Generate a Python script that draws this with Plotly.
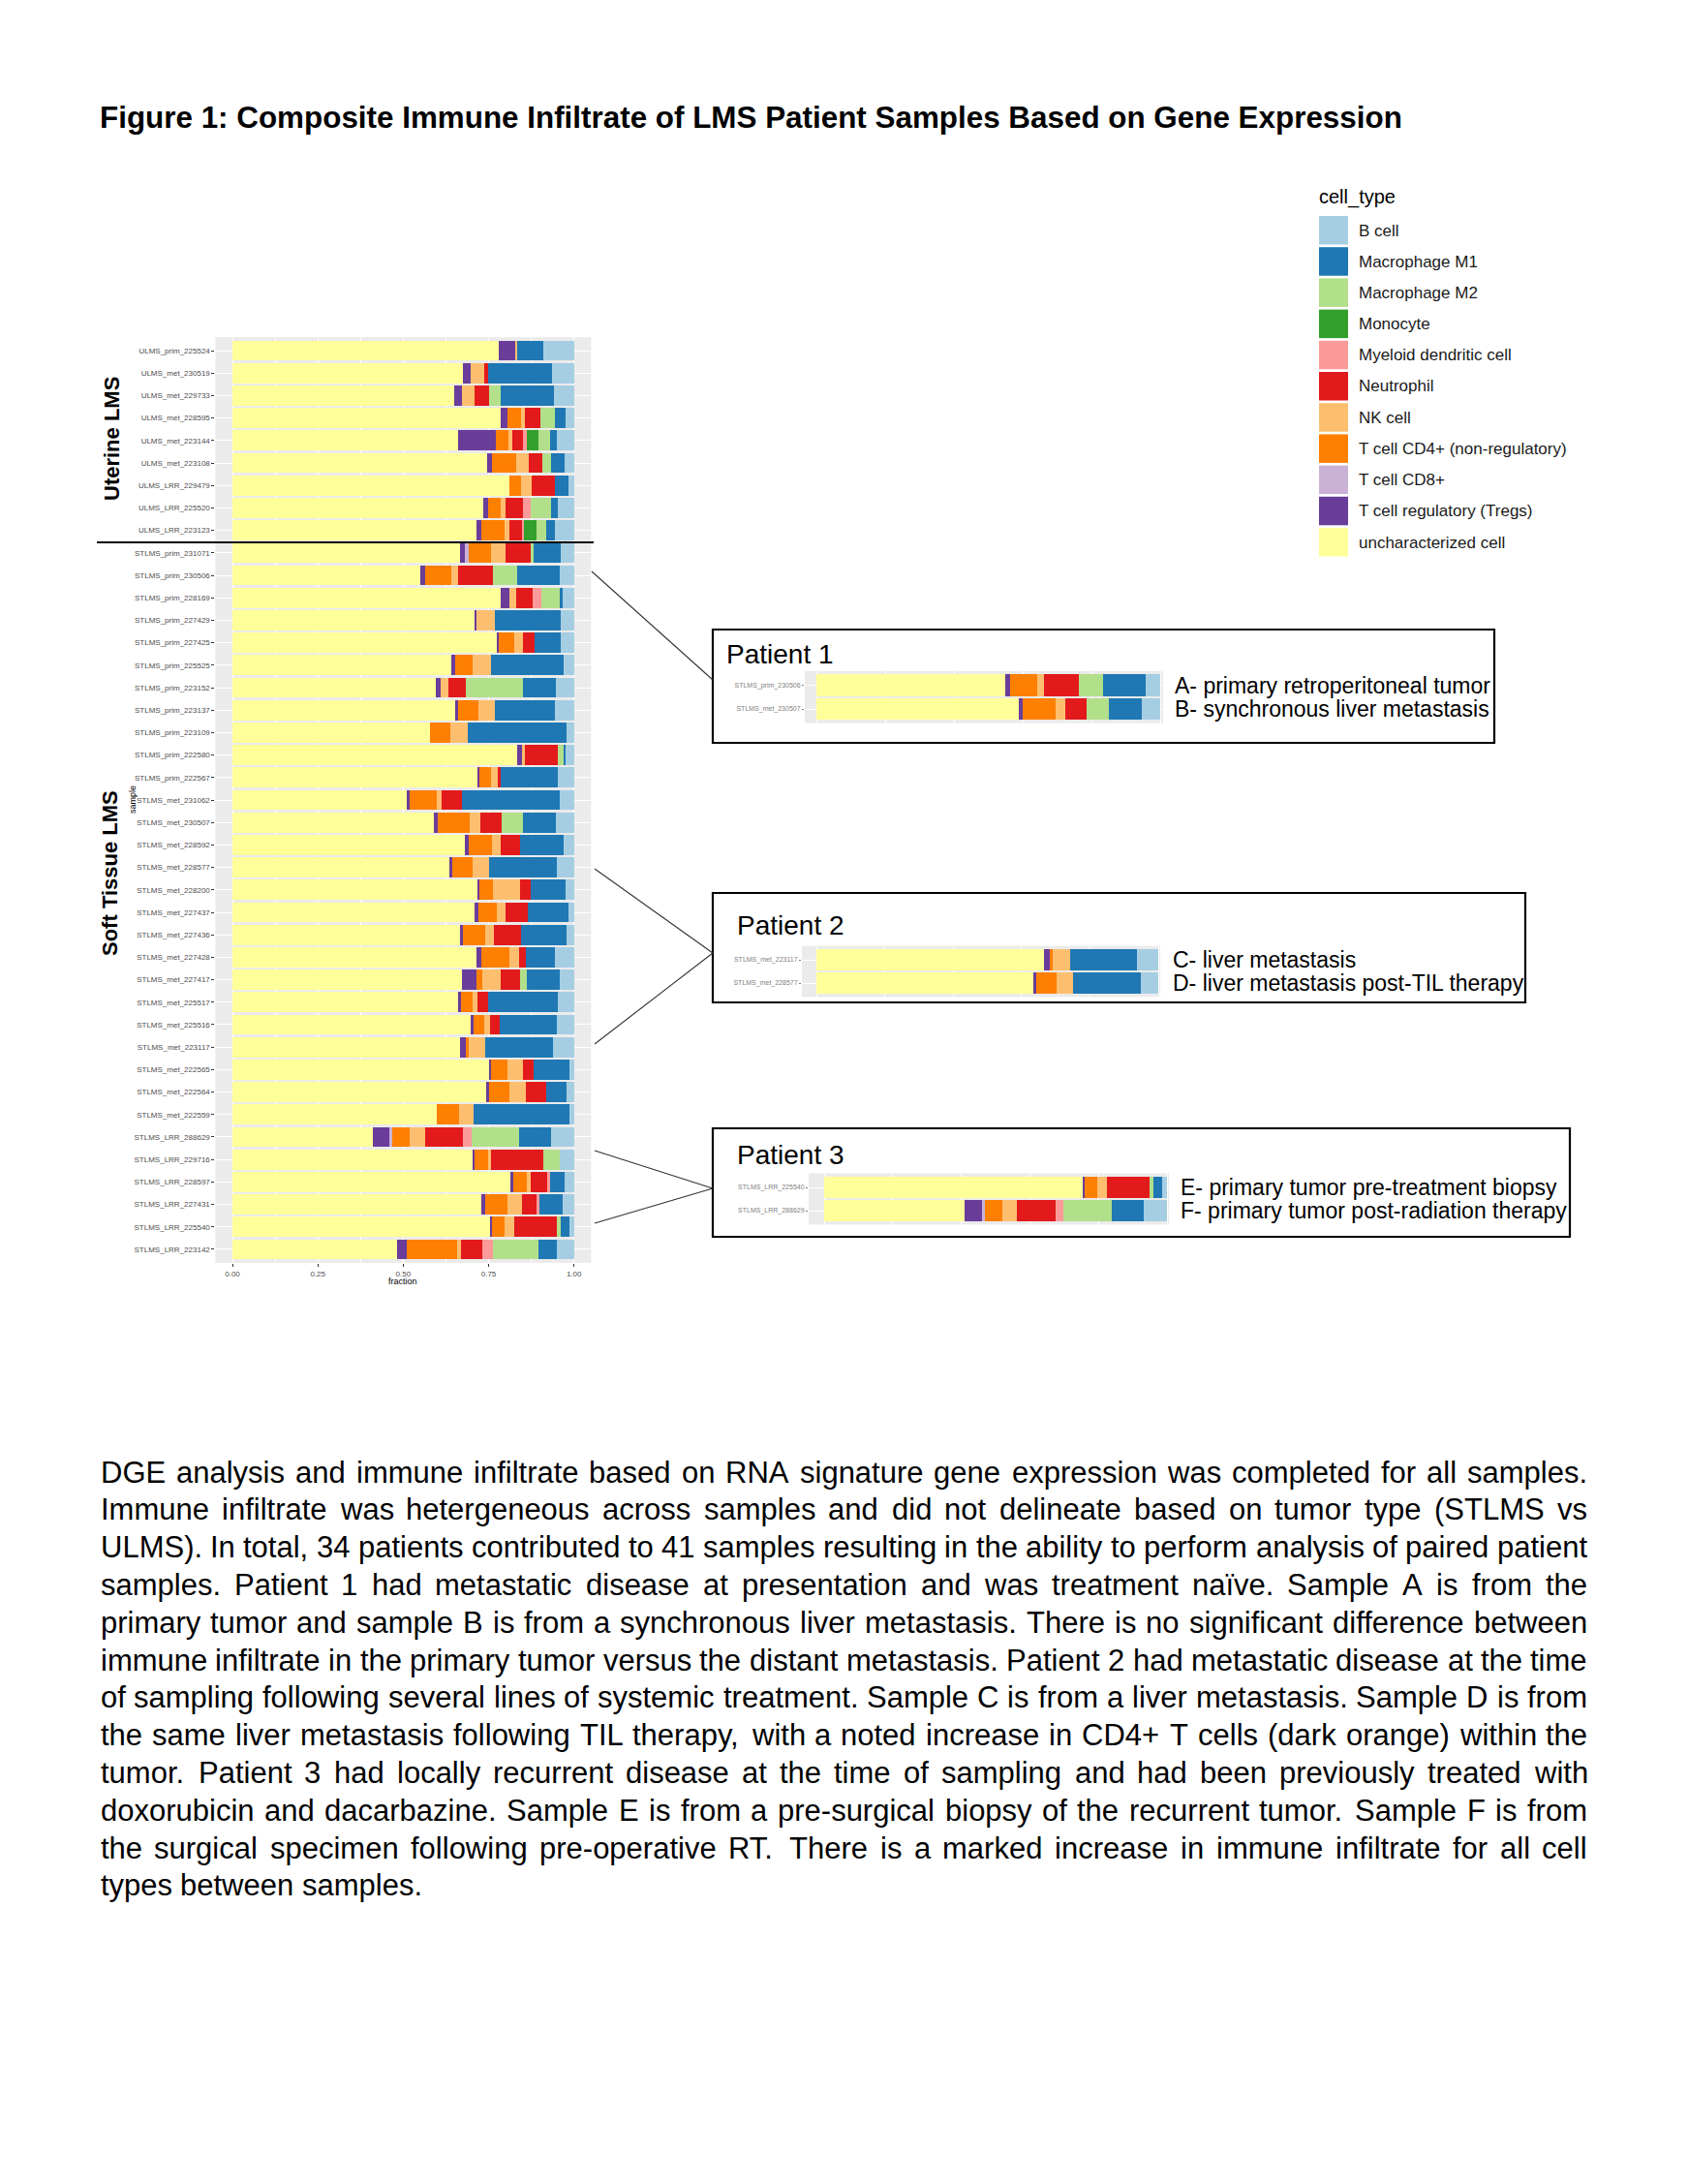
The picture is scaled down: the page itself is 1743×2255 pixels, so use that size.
import plotly.graph_objects as go

W, H = 1743, 2255
OFF = 8  # default body margin of the html page
FW, FH = W - OFF, H - OFF

# ---------------- data ----------------
samples = [
    "ULMS_prim_225524", "ULMS_met_230519", "ULMS_met_229733", "ULMS_met_228595", "ULMS_met_223144",
    "ULMS_met_223108", "ULMS_LRR_229479", "ULMS_LRR_225520", "ULMS_LRR_223123",
    "STLMS_prim_231071", "STLMS_prim_230506", "STLMS_prim_228169", "STLMS_prim_227429", "STLMS_prim_227425",
    "STLMS_prim_225525", "STLMS_prim_223152", "STLMS_prim_223137", "STLMS_prim_223109", "STLMS_prim_222580",
    "STLMS_prim_222567",
    "STLMS_met_231062", "STLMS_met_230507", "STLMS_met_228592", "STLMS_met_228577", "STLMS_met_228200",
    "STLMS_met_227437", "STLMS_met_227436", "STLMS_met_227428", "STLMS_met_227417", "STLMS_met_225517",
    "STLMS_met_225516", "STLMS_met_223117", "STLMS_met_222565", "STLMS_met_222564", "STLMS_met_222559",
    "STLMS_LRR_288629", "STLMS_LRR_229716", "STLMS_LRR_228597", "STLMS_LRR_227431", "STLMS_LRR_225540",
    "STLMS_LRR_223142",
]

uncharacterized = [.780, .674, .650, .785, .660, .747, .811, .733, .715, .665,
                   .549, .785, .711, .774, .640, .595, .652, .578, .835, .720,
                   .509, .590, .681, .635, .718, .710, .665, .715, .673, .664,
                   .700, .667, .751, .743, .599, .411, .702, .813, .729, .753,
                   .482]
tregs = [.047, .023, .021, .021, .111, .013, 0, .015, .015, .016,
         .015, .027, .003, .007, .011, .014, .010, 0, .013, .004,
         .011, .011, .010, .009, .006, .009, .010, .014, .042, .004,
         .005, .017, .006, .009, 0, .049, .007, .010, .010, .006,
         .028]
cd8 = [0, 0, 0, 0, 0, 0, 0, 0, 0, .010,
       0, 0, 0, 0, 0, 0, 0, 0, 0, 0,
       0, 0, 0, 0, 0, 0, 0, 0, 0, 0,
       0, 0, 0, 0, 0, .009, 0, 0, 0, 0,
       0]
cd4 = [0, 0, 0, .039, .037, .072, .035, .038, .067, .066,
       .078, 0, 0, .043, .052, 0, .059, .060, 0, .032,
       .077, .095, .070, .059, .038, .056, .064, .081, .017, .035,
       .032, .008, .047, .059, .064, .051, .040, .038, .065, .039,
       .147]
nk = [.008, .041, .038, .012, .012, .036, .029, .013, .013, .043,
      .019, .020, .054, .026, .053, .022, .048, .050, .009, .020,
      .015, .029, .023, .047, .081, .026, .026, .028, .053, .013,
      .016, .049, .047, .047, .043, .043, .009, .013, .043, .026,
      .013]
neutrophil = [0, .011, .041, .044, .032, .038, .068, .052, .037, .072,
              .101, .047, 0, .036, 0, .051, 0, 0, .095, .010,
              .060, .062, .059, 0, .029, .065, .080, .022, .057, .032,
              .029, 0, .032, .062, 0, .113, .151, .047, .043, .126,
              .061]
mdc = [0, 0, 0, 0, .009, 0, 0, .022, .007, 0,
       0, .025, 0, 0, 0, 0, 0, 0, 0, 0,
       0, 0, 0, 0, 0, 0, 0, 0, 0, 0,
       0, 0, 0, 0, 0, .023, 0, .008, .010, 0,
       .033]
monocyte = [0, 0, 0, 0, .034, 0, 0, 0, .037, 0,
            0, 0, 0, 0, 0, 0, 0, 0, 0, 0,
            0, 0, 0, 0, 0, 0, 0, 0, 0, 0,
            0, 0, 0, 0, 0, 0, 0, 0, 0, 0,
            0]
m2 = [0, 0, .035, .043, .034, .028, 0, .060, .027, .009,
      .073, .054, 0, 0, 0, .169, 0, 0, .019, 0,
      0, .063, 0, 0, 0, 0, 0, 0, .019, 0,
      0, 0, 0, 0, 0, .139, .048, 0, 0, .011,
      .133]
m1 = [.076, .187, .157, .031, .021, .039, .040, .019, .026, .079,
      .123, .009, .193, .076, .213, .097, .174, .290, .004, .167,
      .286, .097, .126, .200, .104, .119, .133, .083, .098, .205,
      .167, .198, .103, .057, .281, .094, 0, .043, .067, .025,
      .053]
bcell = [.089, .064, .058, .025, .050, .027, .017, .048, .056, .040,
         .042, .033, .039, .038, .031, .052, .057, .022, .025, .047,
         .042, .053, .031, .050, .024, .015, .022, .057, .041, .047,
         .051, .061, .014, .023, .013, .068, .043, .028, .033, .014,
         .050]

cell_types = ["uncharacterized cell", "T cell regulatory (Tregs)", "T cell CD8+",
              "T cell CD4+ (non-regulatory)", "NK cell", "Neutrophil", "Myeloid dendritic cell",
              "Monocyte", "Macrophage M2", "Macrophage M1", "B cell"]
colors = ["#FFFF99", "#6A3D9A", "#CAB2D6", "#FF7F00", "#FDBF6F", "#E31A1C", "#FB9A99",
          "#33A02C", "#B2DF8A", "#1F78B4", "#A6CEE3"]
series = [uncharacterized, tregs, cd8, cd4, nk, neutrophil, mdc, monocyte, m2, m1, bcell]

x_ticks = [0, 0.25, 0.5, 0.75, 1.0]
x_tick_labels = ["0.00", "0.25", "0.50", "0.75", "1.00"]

patient_pairs = [
    ["STLMS_prim_230506", "STLMS_met_230507"],
    ["STLMS_met_223117", "STLMS_met_228577"],
    ["STLMS_LRR_225540", "STLMS_LRR_288629"],
]
patient_titles = ["Patient 1", "Patient 2", "Patient 3"]
patient_notes = [
    ["A- primary retroperitoneal tumor", "B- synchronous liver metastasis"],
    ["C- liver metastasis", "D- liver metastasis post-TIL therapy"],
    ["E- primary tumor pre-treatment biopsy", "F- primary tumor post-radiation therapy"],
]

title_text = "Figure 1: Composite Immune Infiltrate of LMS Patient Samples Based on Gene Expression"
body_lines = [
    "DGE analysis and immune infiltrate based on RNA signature gene expression was completed for all samples.",
    "Immune infiltrate was hetergeneous across samples and did not delineate based on tumor type (STLMS vs",
    "ULMS). In total, 34 patients contributed to 41 samples resulting in the ability to perform analysis of paired patient",
    "samples. Patient 1 had metastatic disease at presentation and was treatment naïve. Sample A is from the",
    "primary tumor and sample B is from a synchronous liver metastasis. There is no significant difference between",
    "immune infiltrate in the primary tumor versus the distant metastasis. Patient 2 had metastatic disease at the time",
    "of sampling following several lines of systemic treatment. Sample C is from a liver metastasis. Sample D is from",
    "the same liver metastasis following TIL therapy, with a noted increase in CD4+ T cells (dark orange) within the",
    "tumor. Patient 3 had locally recurrent disease at the time of sampling and had been previously treated with",
    "doxorubicin and dacarbazine. Sample E is from a pre-surgical biopsy of the recurrent tumor. Sample F is from",
    "the surgical specimen following pre-operative RT. There is a marked increase in immune infiltrate for all cell",
    "types between samples.",
]

# ---------------- helpers (page pixels -> paper) ----------------
def px(x):
    return (x - OFF) / FW


def py(y):
    return 1 - (y - OFF) / FH


def dom_x(a, b):
    return [px(a), px(b)]


def dom_y(top, bottom):
    return [py(bottom), py(top)]


# Arial / Liberation Sans advance widths (per 1000 em)
AW = {}
for ch, w in zip("abcdefghijklmnopqrstuvwxyz",
                 [556, 556, 500, 556, 556, 278, 556, 556, 222, 222, 500, 222, 833,
                  556, 556, 556, 556, 333, 500, 278, 556, 500, 722, 500, 500, 500]):
    AW[ch] = w
for ch, w in zip("ABCDEFGHIJKLMNOPQRSTUVWXYZ",
                 [667, 667, 722, 722, 667, 611, 778, 722, 278, 500, 667, 556, 833,
                  722, 778, 667, 778, 722, 667, 611, 722, 667, 944, 667, 667, 611]):
    AW[ch] = w
for ch in "0123456789":
    AW[ch] = 556
AW.update({" ": 278, ".": 278, ",": 278, "(": 333, ")": 333, "-": 333, "+": 584,
           ":": 278, "ï": 278})


def tw(s, size):
    return sum(AW.get(c, 556) for c in s) / 1000.0 * size


FONT = "Liberation Sans, Arial, Helvetica, sans-serif"

fig = go.Figure()

# ---------------- main stacked bars ----------------
for name, col, vals in zip(cell_types, colors, series):
    fig.add_trace(go.Bar(y=samples, x=vals, orientation="h", name=name,
                         marker=dict(color=col, line=dict(width=0)),
                         xaxis="x", yaxis="y", showlegend=False))

# ---------------- inset bars ----------------
for k, pair in enumerate(patient_pairs):
    idx = [samples.index(s) for s in pair]
    for name, col, vals in zip(cell_types, colors, series):
        fig.add_trace(go.Bar(y=pair, x=[vals[i] for i in idx], orientation="h", name=name,
                             marker=dict(color=col, line=dict(width=0)),
                             xaxis="x%d" % (k + 2), yaxis="y%d" % (k + 2), showlegend=False))

layout = dict(
    width=FW, height=FH, margin=dict(l=0, r=0, t=0, b=0),
    paper_bgcolor="white", plot_bgcolor="#EBEBEB",
    barmode="stack", bargap=0.1, showlegend=False,
    font=dict(family=FONT),
)

n = len(samples)
layout["xaxis"] = dict(domain=dom_x(222.4, 610.3), range=[-0.05, 1.05], anchor="y",
                       tickvals=x_ticks, ticktext=x_tick_labels,
                       tickfont=dict(size=8, color="#4D4D4D", family=FONT),
                       ticks="outside", ticklen=3, tickwidth=0.6, tickcolor="#333333",
                       showgrid=True, gridcolor="white", gridwidth=1.1,
                       minor=dict(tick0=0.125, dtick=0.25, showgrid=True, gridcolor="white", gridwidth=0.5),
                       zeroline=False, showline=False, fixedrange=True, automargin=False)
layout["yaxis"] = dict(domain=dom_y(348.1, 1303.9), type="category", categoryarray=samples,
                       categoryorder="array", range=[n - 0.4, -0.6], anchor="x",
                       tickfont=dict(size=8, color="#4D4D4D", family=FONT),
                       ticks="outside", ticklen=3, tickwidth=0.6, tickcolor="#333333",
                       showgrid=True, gridcolor="white", gridwidth=1.1,
                       zeroline=False, showline=False, fixedrange=True, automargin=False)

# inset geometry: (panel left, panel right, x at 0, x at 1, row1 centre, row2 centre)
inset_geo = [
    (831, 1201, 843, 1198, 707.5, 732.0),
    (828, 1198, 843, 1196, 991.0, 1015.0),
    (835, 1207, 851, 1205, 1226.0, 1250.0),
]
for k, (pl, pr, x0, x1, r1, r2) in enumerate(inset_geo):
    sc = x1 - x0
    pitch = r2 - r1
    ax = k + 2
    layout["xaxis%d" % ax] = dict(domain=dom_x(pl, pr), range=[(pl - x0) / sc, (pr - x0) / sc],
                                  anchor="y%d" % ax, showticklabels=False, ticks="",
                                  showgrid=True, gridcolor="white", gridwidth=0.8,
                                  zeroline=False, showline=False, fixedrange=True, automargin=False)
    layout["yaxis%d" % ax] = dict(domain=dom_y(r1 - 0.6 * pitch, r2 + 0.6 * pitch), type="category",
                                  categoryarray=patient_pairs[k], categoryorder="array",
                                  range=[1.6, -0.6], anchor="x%d" % ax,
                                  tickfont=dict(size=7, color="#808080", family=FONT),
                                  ticks="outside", ticklen=2, tickwidth=0.5, tickcolor="#808080",
                                  showgrid=True, gridcolor="white", gridwidth=0.8,
                                  zeroline=False, showline=False, fixedrange=True, automargin=False)

shapes = []
annotations = []


def note(x, y, text, size, xanchor="left", angle=0, color="black", yanchor="middle"):
    annotations.append(dict(x=px(x), y=py(y), xref="paper", yref="paper", xanchor=xanchor,
                            yanchor=yanchor, showarrow=False, text=text, textangle=angle,
                            font=dict(size=size, color=color, family=FONT)))


# title
note(101, 122, "<b>%s</b>" % title_text, 31.4)

# group labels and separator
note(115, 453, "<b>Uterine LMS</b>", 22, xanchor="center", angle=-90)
note(113, 902, "<b>Soft Tissue LMS</b>", 22, xanchor="center", angle=-90)
shapes.append(dict(type="line", xref="paper", yref="paper", x0=px(100), x1=px(613),
                   y0=py(560), y1=py(560), line=dict(color="black", width=2.2)))

# axis titles
note(416, 1323, "fraction", 9, xanchor="center")
note(137, 826, "sample", 9, xanchor="center", angle=-90)

# legend (ggplot style, drawn manually)
note(1360, 203, "cell_type", 20)
for i, (name, col) in enumerate(zip(cell_types[::-1], colors[::-1])):
    top = 223 + i * 32.2
    shapes.append(dict(type="rect", xref="paper", yref="paper", x0=px(1362), x1=px(1392),
                       y0=py(top), y1=py(top + 29.5), fillcolor=col, line=dict(width=0)))
    note(1401, top + 15, name, 17, color="#1a1a1a")

# inset boxes, titles, notes
boxes = [(736, 650, 1543, 767), (736, 922, 1575, 1035), (736, 1165, 1621, 1277)]
title_pos = [(748, 676), (759, 956), (759, 1192)]
note_x = [1211, 1209, 1217]
for k in range(3):
    x0, y0, x1, y1 = boxes[k]
    shapes.append(dict(type="rect", xref="paper", yref="paper", x0=px(x0), x1=px(x1),
                       y0=py(y0), y1=py(y1), line=dict(color="black", width=2.2)))
    tx, ty = title_pos[k]
    note(tx, ty, patient_titles[k], 28)
    r1, r2 = inset_geo[k][4], inset_geo[k][5]
    for j, ry in enumerate([r1, r2]):
        note(note_x[k], ry, patient_notes[k][j], 23)

# connector lines
connectors = [((611, 590), (736, 702)),
              ((614, 897), (736, 984)), ((614, 1078), (736, 984)),
              ((614, 1188), (736, 1227)), ((614, 1263), (736, 1227))]
for (a, b) in connectors:
    shapes.append(dict(type="line", xref="paper", yref="paper", x0=px(a[0]), y0=py(a[1]),
                       x1=px(b[0]), y1=py(b[1]), line=dict(color="#333333", width=1.1)))

# justified body paragraph
BODY_SIZE = 31
L, R = 103.5, 1639.0
for li, line in enumerate(body_lines):
    yc = 1520 + li * 38.8
    words = line.split(" ")
    widths = [tw(w, BODY_SIZE) for w in words]
    if li < len(body_lines) - 1 and len(words) > 1:
        gap = (R - L - sum(widths)) / (len(words) - 1)
    else:
        gap = tw(" ", BODY_SIZE)
    xcur = L
    for w, wd in zip(words, widths):
        note(xcur - 2, yc, w, BODY_SIZE)
        xcur += wd + gap

layout["shapes"] = shapes
layout["annotations"] = annotations
fig.update_layout(**layout)

fig.write_html("out.html")
